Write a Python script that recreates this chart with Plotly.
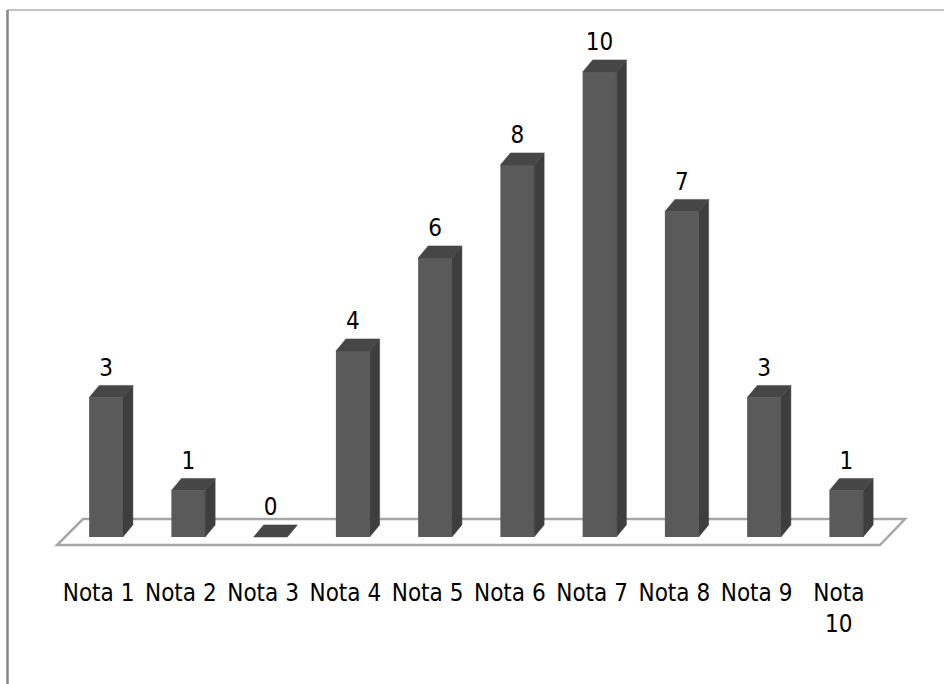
import plotly.graph_objects as go

# Frequency of each grade
categories = ["Nota 1", "Nota 2", "Nota 3", "Nota 4", "Nota 5",
              "Nota 6", "Nota 7", "Nota 8", "Nota 9", "Nota 10"]
tick_labels = ["Nota 1", "Nota 2", "Nota 3", "Nota 4", "Nota 5",
               "Nota 6", "Nota 7", "Nota 8", "Nota 9", "Nota<br>10"]
values = [3, 1, 0, 4, 6, 8, 10, 7, 3, 1]

# Pseudo-3D styling (data units)
BAR_W = 0.41      # width of the front face
DEPTH_X = 0.122   # horizontal shift of the back edge
DEPTH_Y = 0.26    # vertical shift of the back edge
FRONT = "#5a5a5a"
SIDE = "#3e3e3e"
TOP = "#464646"
FONT = "DejaVu Sans Condensed, Liberation Sans, sans-serif"
FONT_SIZE = 24

xs = list(range(len(values)))
n = len(values)

side_x, side_y, top_x, top_y = [], [], [], []
for x, v in zip(xs, values):
    r = x + BAR_W / 2
    l = x - BAR_W / 2
    if v > 0:
        side_x += [r, r + DEPTH_X, r + DEPTH_X, r, r, None]
        side_y += [0, DEPTH_Y, v + DEPTH_Y, v, 0, None]
    top_x += [l, r, r + DEPTH_X, l + DEPTH_X, l, None]
    top_y += [v, v, v + DEPTH_Y, v + DEPTH_Y, v, None]

fig = go.Figure()

fig.add_trace(go.Bar(
    x=xs, y=values, width=BAR_W, marker=dict(color=FRONT, line=dict(width=0)),
    showlegend=False))

fig.add_trace(go.Scatter(
    x=side_x, y=side_y, mode="lines", fill="toself",
    fillcolor=SIDE, line=dict(color=SIDE, width=0.5),
    hoverinfo="skip", showlegend=False))

fig.add_trace(go.Scatter(
    x=top_x, y=top_y, mode="lines", fill="toself",
    fillcolor=TOP, line=dict(color=TOP, width=0.5),
    hoverinfo="skip", showlegend=False))

# Value labels above each bar
fig.add_trace(go.Scatter(
    x=xs, y=[v + DEPTH_Y + 0.34 for v in values], mode="text",
    text=[str(v) for v in values], textposition="middle center",
    textfont=dict(family=FONT, size=FONT_SIZE, color="black"),
    hoverinfo="skip", showlegend=False))

# Category labels under the floor
fig.add_trace(go.Scatter(
    x=[x - 0.09 for x in xs], y=[-0.98] * n, mode="text",
    text=tick_labels, textposition="bottom center",
    textfont=dict(family=FONT, size=FONT_SIZE, color="black"),
    hoverinfo="skip", showlegend=False))

# Floor plane drawn beneath the bars
floor_path = "M {:.3f},{:.3f} L {:.3f},{:.3f} L {:.3f},{:.3f} L {:.3f},{:.3f} Z".format(
    -0.596, -0.172, n - 0.59, -0.172, n - 0.286, 0.387, -0.28, 0.387)

fig.update_layout(
    width=944, height=684,
    margin=dict(l=0, r=0, t=0, b=0),
    paper_bgcolor="white", plot_bgcolor="white",
    xaxis=dict(range=[-1.2888, 10.1885], visible=False, fixedrange=True),
    yaxis=dict(range=[-3.161, 11.548], visible=False, fixedrange=True),
    shapes=[
        dict(type="path", xref="x", yref="y", path=floor_path, layer="below",
             fillcolor="white", line=dict(color="#a6a6a6", width=2.5)),
        dict(type="line", xref="paper", yref="paper",
             x0=7.5 / 944, x1=7.5 / 944, y0=0, y1=1 - 10 / 684,
             line=dict(color="#888888", width=2.5)),
        dict(type="line", xref="paper", yref="paper",
             x0=7.5 / 944, x1=1, y0=1 - 10 / 684, y1=1 - 10 / 684,
             line=dict(color="#888888", width=1.2)),
    ],
)

fig.write_html("out.html")
